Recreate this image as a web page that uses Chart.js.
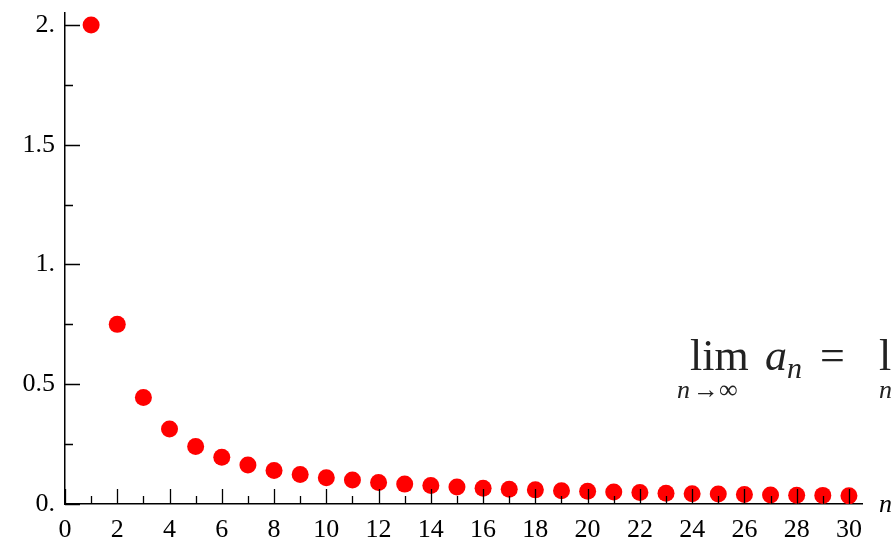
<!DOCTYPE html>
<html>
<head>
<meta charset="utf-8">
<script src="https://cdn.jsdelivr.net/npm/chart.js@4/dist/chart.umd.min.js"></script>
<style>
  html, body { margin: 0; padding: 0; background: #fff; }
  #wrap { width: 891px; height: 542px; }
</style>
</head>
<body>
<div id="wrap"><canvas id="seq"></canvas></div>
<script>
// sequence index n and the values a_n
const nValues = [1, 2, 3, 4, 5, 6, 7, 8, 9, 10, 11, 12, 13, 14, 15,
  16, 17, 18, 19, 20, 21, 22, 23, 24, 25, 26, 27, 28, 29, 30];
const aValues = [2.0, 0.75, 0.445, 0.313, 0.24, 0.195, 0.163, 0.14, 0.123, 0.11,
  0.1, 0.09, 0.083, 0.077, 0.071, 0.066, 0.062, 0.059, 0.055, 0.053,
  0.05, 0.048, 0.045, 0.043, 0.042, 0.04, 0.038, 0.037, 0.036, 0.034];

// axis ticks
const xMajor = [0, 2, 4, 6, 8, 10, 12, 14, 16, 18, 20, 22, 24, 26, 28, 30];
const xMinor = [1, 3, 5, 7, 9, 11, 13, 15, 17, 19, 21, 23, 25, 27, 29];
const yMajor = [0, 0.5, 1, 1.5, 2];
const yMinor = [0.25, 0.75, 1.25, 1.75];
const yLabels = ["0.", "0.5", "1.", "1.5", "2."];

const points = nValues.map((n, i) => ({ x: n, y: aValues[i] }));

// inward tick marks (mathematica style) + the limit text
const extras = {
  id: "extras",
  afterDraw(chart) {
    const c = chart.ctx;
    const xs = chart.scales.x, ys = chart.scales.y;
    const x0 = xs.left, y0 = ys.bottom;
    c.save();
    c.strokeStyle = "#000";
    c.lineWidth = 1.3;
    c.beginPath();
    xMajor.forEach(v => {
      const px = Math.round(xs.getPixelForValue(v)) + 0.5;
      c.moveTo(px, y0); c.lineTo(px, y0 - 15);
    });
    xMinor.forEach(v => {
      const px = Math.round(xs.getPixelForValue(v)) + 0.5;
      c.moveTo(px, y0); c.lineTo(px, y0 - 8);
    });
    yMajor.forEach(v => {
      const py = Math.round(ys.getPixelForValue(v)) + 0.5;
      c.moveTo(x0, py); c.lineTo(x0 + 15, py);
    });
    yMinor.forEach(v => {
      const py = Math.round(ys.getPixelForValue(v)) + 0.5;
      c.moveTo(x0, py); c.lineTo(x0 + 8, py);
    });
    c.stroke();

    // axis label n
    c.fillStyle = "#000";
    c.textBaseline = "alphabetic";
    c.font = "italic 26px 'Liberation Serif'";
    c.fillText("n", 879, 512);

    // limit formula, cut off at the right edge
    c.fillStyle = "#222";
    c.font = "44px 'Liberation Serif'";
    c.fillText("lim", 690, 370);
    c.font = "italic 44px 'Liberation Serif'";
    c.fillText("a", 765, 370);
    c.font = "italic 30px 'Liberation Serif'";
    c.fillText("n", 787, 378);
    c.font = "44px 'Liberation Serif'";
    c.fillText("=", 820, 370);
    c.fillText("lim", 879, 370);
    c.font = "italic 26px 'Liberation Serif'";
    c.fillText("n", 677, 398);
    c.fillText("n", 879, 398);
    c.font = "26px 'Liberation Serif'";
    c.fillText("\u2192\u221E", 693, 398);
    c.restore();
  }
};

new Chart(document.getElementById("seq"), {
  type: "scatter",
  data: {
    datasets: [{
      data: points,
      backgroundColor: "#ff0000",
      borderColor: "#ff0000",
      pointRadius: 8.5,
      pointHoverRadius: 8.5,
      borderWidth: 0
    }]
  },
  options: {
    responsive: true,
    maintainAspectRatio: false,
    animation: false,
    layout: { padding: { top: 13, right: 29, left: 0, bottom: 0 } },
    plugins: { legend: { display: false }, tooltip: { enabled: false } },
    scales: {
      x: {
        type: "linear",
        min: 0,
        max: 30.5,
        grid: { display: false, drawTicks: false },
        border: { display: true, color: "#000", width: 1.5 },
        afterBuildTicks: s => { s.ticks = xMajor.map(v => ({ value: v })); },
        afterFit: s => { s.height = 38; },
        ticks: {
          color: "#000",
          padding: 11,
          maxRotation: 0,
          autoSkip: false,
          font: { family: "'Liberation Serif'", size: 26 }
        }
      },
      y: {
        type: "linear",
        min: 0,
        max: 2.05,
        grid: { display: false, drawTicks: false },
        border: { display: true, color: "#000", width: 1.5 },
        afterBuildTicks: s => { s.ticks = yMajor.map(v => ({ value: v })); },
        afterFit: s => { s.width = 65; s.paddingTop = 0; s.paddingBottom = 0; },
        ticks: {
          color: "#000",
          padding: 10,
          autoSkip: false,
          font: { family: "'Liberation Serif'", size: 26 },
          callback: v => yLabels[yMajor.indexOf(v)]
        }
      }
    }
  },
  plugins: [extras]
});
</script>
</body>
</html>
